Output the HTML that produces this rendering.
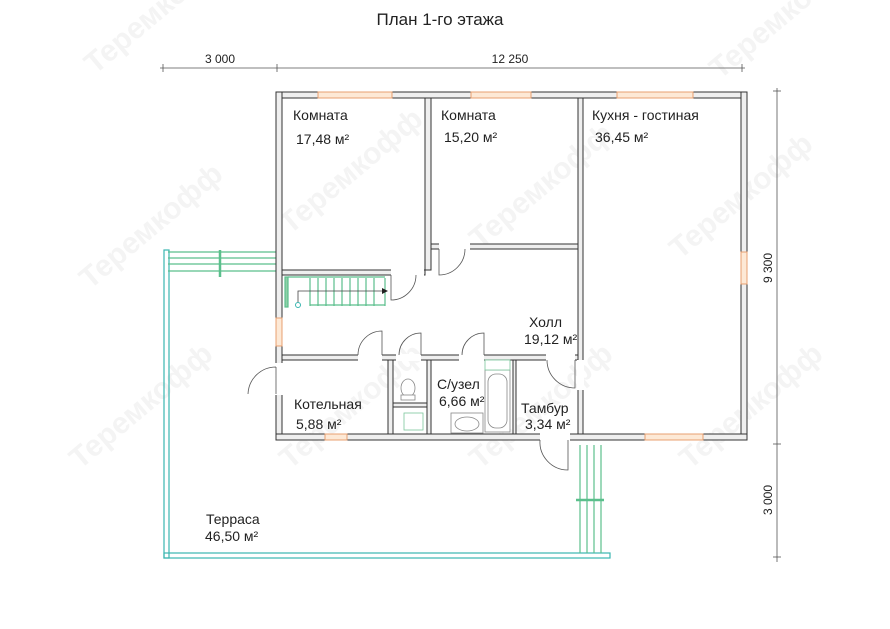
<!DOCTYPE html>
<html><head><meta charset="utf-8"><style>
body{margin:0;background:#fff;width:890px;height:629px;overflow:hidden}
svg{display:block}
text{font-family:"Liberation Sans","DejaVu Sans",sans-serif;fill:#222}
.w{fill:#efefef;stroke:#333;stroke-width:1}
.win{fill:#fde9d6;stroke:#e8a070;stroke-width:1}
.g{stroke:#5bbf8c;fill:none;stroke-width:1.2}
.c{stroke:#3ab6b0;fill:none;stroke-width:1.2}
.d{stroke:#555;fill:none;stroke-width:0.8}
.wm text{fill:#f4f4f4;font-size:30px;font-weight:bold}
</style></head><body>
<svg width="890" height="629" viewBox="0 0 890 629">
<g class="wm">
<text transform="translate(95,75) rotate(-40)">Теремкофф</text>
<text transform="translate(290,235) rotate(-40)">Теремкофф</text>
<text transform="translate(480,250) rotate(-40)">Теремкофф</text>
<text transform="translate(680,260) rotate(-40)">Теремкофф</text>
<text transform="translate(90,290) rotate(-40)">Теремкофф</text>
<text transform="translate(290,470) rotate(-40)">Теремкофф</text>
<text transform="translate(480,470) rotate(-40)">Теремкофф</text>
<text transform="translate(690,470) rotate(-40)">Теремкофф</text>
<text transform="translate(80,470) rotate(-40)">Теремкофф</text>
<text transform="translate(720,80) rotate(-40)">Теремкофф</text>
</g>
<text x="440" y="25" font-size="17" text-anchor="middle">План 1-го этажа</text>
<g stroke="#555" stroke-width="0.8">
<line x1="160" y1="68" x2="745" y2="68"/>
<line x1="163" y1="64" x2="163" y2="72"/><line x1="277" y1="64" x2="277" y2="72"/><line x1="742" y1="64" x2="742" y2="72"/>
<line x1="777" y1="88" x2="777" y2="562"/>
<line x1="773" y1="91" x2="781" y2="91"/><line x1="773" y1="444" x2="781" y2="444"/><line x1="773" y1="557" x2="781" y2="557"/>
</g>
<text x="220" y="63" font-size="12" text-anchor="middle">3 000</text>
<text x="510" y="63" font-size="12" text-anchor="middle">12 250</text>
<text transform="translate(772,268) rotate(-90)" font-size="12" text-anchor="middle">9 300</text>
<text transform="translate(772,500) rotate(-90)" font-size="12" text-anchor="middle">3 000</text>
<rect class="c" x="164" y="250" width="5" height="308"/>
<rect class="c" x="164" y="553" width="446" height="5"/>
<g class="g">
<line x1="168" y1="252" x2="276" y2="252"/><line x1="168" y1="258" x2="276" y2="258"/><line x1="168" y1="264" x2="276" y2="264"/><line x1="168" y1="271" x2="276" y2="271"/>
<line x1="220" y1="250" x2="220" y2="277" stroke-width="2.5"/>
<line x1="580" y1="445" x2="580" y2="553"/><line x1="587" y1="445" x2="587" y2="553"/><line x1="594" y1="445" x2="594" y2="553"/><line x1="601" y1="445" x2="601" y2="553"/>
<line x1="576" y1="500" x2="604" y2="500" stroke-width="2.5"/>
</g>
<g class="w">
<rect x="276" y="92" width="471" height="6"/>
<rect x="276" y="92" width="6" height="348"/>
<rect x="741" y="92" width="6" height="348"/>
<rect x="276" y="434" width="471" height="6"/>
<rect x="425" y="98" width="6" height="172"/>
<rect x="578" y="98" width="5" height="336"/>
<rect x="282" y="270" width="143" height="5"/>
<rect x="431" y="244" width="147" height="5"/>
<rect x="282" y="355" width="296" height="5"/>
<rect x="388" y="360" width="5" height="74"/>
<rect x="427" y="360" width="4" height="74"/>
<rect x="393" y="403" width="34" height="4"/>
<rect x="513" y="360" width="3" height="74"/>
</g>
<g fill="#fff">
<rect x="391" y="269" width="33" height="7"/>
<rect x="439" y="243" width="31" height="7"/>
<rect x="358" y="354" width="24" height="7"/>
<rect x="396" y="354" width="25" height="7"/>
<rect x="459" y="354" width="25" height="7"/>
<rect x="546" y="354" width="29" height="7"/>
<rect x="275" y="363" width="8" height="32"/>
<rect x="540" y="433" width="30" height="8"/>
<rect x="577" y="360" width="7" height="30"/>
</g>
<g class="win">
<rect x="318" y="92" width="74" height="6"/>
<rect x="471" y="92" width="60" height="6"/>
<rect x="617" y="92" width="76" height="6"/>
<rect x="741" y="252" width="6" height="32"/>
<rect x="645" y="434" width="58" height="6"/>
<rect x="276" y="318" width="6" height="28"/>
<rect x="325" y="434" width="22" height="6"/>
</g>
<g class="d">
<path d="M391 275 L391 300 A25 25 0 0 0 416 275"/>
<path d="M439 249 L439 275 A26 26 0 0 0 465 249"/>
<path d="M382 355 L382 331 A24 24 0 0 0 358 355"/>
<path d="M421 355 L421 333 A22 22 0 0 0 399 355"/>
<path d="M484 355 L484 333 A22 22 0 0 0 462 355"/>
<path d="M575 360 L575 388 A28 28 0 0 1 547 360"/>
<path d="M276 367 L276 394 M276 367 A28 28 0 0 0 248 394"/>
<path d="M568 440 L568 470 A28 28 0 0 1 540 440"/>
</g>
<g class="g">
<rect x="285" y="277" width="3" height="30" fill="#8fd0a8"/>
<line x1="288" y1="277" x2="385" y2="277"/><line x1="310" y1="305" x2="385" y2="305"/>
<line x1="310" y1="278" x2="310" y2="306"/><line x1="318" y1="278" x2="318" y2="306"/><line x1="326" y1="278" x2="326" y2="306"/><line x1="334" y1="278" x2="334" y2="306"/><line x1="342" y1="278" x2="342" y2="306"/><line x1="350" y1="278" x2="350" y2="306"/><line x1="358" y1="278" x2="358" y2="306"/><line x1="366" y1="278" x2="366" y2="306"/><line x1="374" y1="278" x2="374" y2="306"/><line x1="385" y1="278" x2="385" y2="306"/>
</g>
<path d="M298 305 L298 291 L382 291" stroke="#444" fill="none" stroke-width="0.8"/>
<polygon points="382,288 388,291 382,294" fill="#222"/>
<circle cx="298" cy="305" r="2.5" fill="#fff" stroke="#3ab6b0"/>
<g stroke="#888" fill="#fff" stroke-width="0.8">
<ellipse cx="408" cy="388" rx="7" ry="9"/><rect x="401" y="395" width="14" height="5"/>
<rect x="404" y="413" width="19" height="17" stroke="#7cc79c"/>
<rect x="485" y="370" width="25" height="62"/><rect x="488" y="374" width="19" height="54" rx="8"/>
<rect x="485" y="360" width="25" height="10" stroke="#7cc79c"/>
<rect x="451" y="413" width="32" height="20"/><ellipse cx="467" cy="424" rx="12" ry="7"/>
</g>
<g font-size="14">
<text x="293" y="120">Комната</text><text x="296" y="144">17,48 м²</text>
<text x="441" y="120">Комната</text><text x="444" y="142">15,20 м²</text>
<text x="592" y="120">Кухня - гостиная</text><text x="595" y="142">36,45 м²</text>
<text x="529" y="327">Холл</text><text x="524" y="344">19,12 м²</text>
<text x="294" y="409">Котельная</text><text x="296" y="429">5,88 м²</text>
<text x="437" y="389">С/узел</text><text x="439" y="406">6,66 м²</text>
<text x="521" y="413">Тамбур</text><text x="525" y="429">3,34 м²</text>
<text x="206" y="524">Терраса</text><text x="205" y="541">46,50 м²</text>
</g>
</svg>
</body></html>
